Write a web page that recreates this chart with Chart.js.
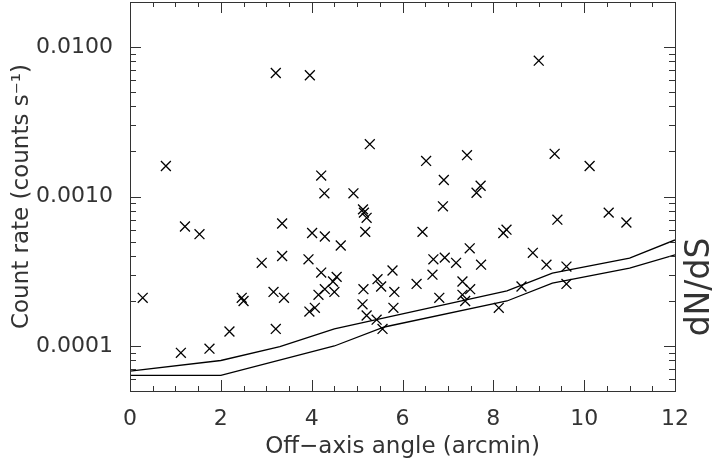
<!DOCTYPE html>
<html>
<head>
<meta charset="utf-8">
<script src="https://cdn.jsdelivr.net/npm/chart.js@4"></script>
<style>
  html, body { margin: 0; padding: 0; background: #fff; }
  #wrap { width: 718px; height: 463px; }
</style>
</head>
<body>
<div id="wrap"><canvas id="chart" width="718" height="463"></canvas></div>
<script>
// Sources: off-axis angle (arcmin) and count rate (counts/s)
const offAxis = [3.21, 3.96, 9.00, 0.79, 4.21, 4.28, 4.92, 1.21, 1.53, 3.35,
    4.01, 4.29, 5.28, 6.52, 7.42, 9.35, 10.12, 6.91, 7.72, 7.63,
    6.89, 5.13, 5.15, 5.21, 5.18, 6.44, 8.22, 8.29, 9.41, 10.54,
    10.93, 8.87, 9.17, 9.61, 9.61, 8.62, 8.12, 7.73, 7.48, 4.64,
    3.93, 4.21, 4.55, 4.47, 4.29, 4.50, 4.15, 4.07, 3.95, 5.14,
    5.45, 5.53, 5.78, 5.82, 5.12, 5.80, 5.21, 5.43, 5.56, 6.31,
    6.68, 6.93, 7.18, 6.66, 6.81, 7.32, 7.49, 7.32, 7.38, 3.35,
    2.90, 0.28, 2.46, 2.50, 3.16, 3.39, 2.19, 3.21, 1.12, 1.75];
const countRate = [0.0067, 0.00647, 0.0081, 0.0016, 0.00138, 0.00105, 0.00105, 0.00063, 0.00056, 0.00066,
    0.00057, 0.00054, 0.00224, 0.00173, 0.00189, 0.00193, 0.0016, 0.00129, 0.00118, 0.00106,
    0.00086, 0.00082, 0.00078, 0.00072, 0.00058, 0.00058, 0.00057, 0.0006, 0.0007, 0.00078,
    0.00067, 0.00042, 0.00035, 0.00034, 0.00026, 0.00025, 0.00018, 0.00035, 0.00045, 0.00047,
    0.00038, 0.00031, 0.00029, 0.00027, 0.00024, 0.00023, 0.00022, 0.00018, 0.00017, 0.00024,
    0.00028, 0.00025, 0.00032, 0.00023, 0.00019, 0.00018, 0.00016, 0.00015, 0.00013, 0.00026,
    0.00038, 0.00039, 0.00036, 0.0003, 0.00021, 0.00027, 0.00024, 0.00022, 0.0002, 0.0004,
    0.00036, 0.00021, 0.00021, 0.0002, 0.00023, 0.00021, 0.000125, 0.00013, 0.00009, 0.000096];

// dN/dS limit curves
const upperX = [0, 2, 3.3, 4.5, 8.3, 9.3, 11, 12];
const upperY = [0.000068, 0.00008, 0.000099, 0.00013, 0.000234, 0.000307, 0.000387, 0.000512];
const lowerX = [0, 2, 4.5, 5.6, 8.3, 9.3, 11, 12];
const lowerY = [0.0000637, 0.0000637, 0.0001, 0.000134, 0.0002, 0.000263, 0.000332, 0.000407];

// axis ticks
const xTicks = [0, 2, 4, 6, 8, 10, 12];
const yTicks = [0.0001, 0.001, 0.01];

const FONT = "'DejaVu Sans', sans-serif";
const INK = '#333';

function toPoints(xs, ys) {
    return xs.map((x, i) => ({ x: x, y: ys[i] }));
}

// inward ticks on all four sides + frame + dN/dS label
const framePlugin = {
    id: 'frame',
    afterDraw(chart) {
        const ctx = chart.ctx;
        const { left, right, top, bottom } = chart.chartArea;
        const xs = chart.scales.x, ys = chart.scales.y;
        ctx.save();
        ctx.strokeStyle = INK;
        ctx.lineWidth = 1;
        ctx.strokeRect(left + 0.5, top + 0.5, right - left, bottom - top);

        ctx.beginPath();
        for (let v = 0; v <= 12.001; v += 0.5) {
            const px = Math.round(xs.getPixelForValue(v)) + 0.5;
            const len = (v % 2 === 0) ? 11 : 5;
            ctx.moveTo(px, bottom); ctx.lineTo(px, bottom - len);
            ctx.moveTo(px, top); ctx.lineTo(px, top + len);
        }
        for (let e = -5; e <= -2; e++) {
            for (let m = 1; m <= 9; m++) {
                const v = m * Math.pow(10, e);
                if (v < ys.min || v > ys.max) continue;
                const py = Math.round(ys.getPixelForValue(v)) + 0.5;
                const len = (m === 1) ? 11 : 6;
                ctx.moveTo(left, py); ctx.lineTo(left + len, py);
                ctx.moveTo(right, py); ctx.lineTo(right - len, py);
            }
        }
        ctx.stroke();

        ctx.fillStyle = INK;
        ctx.font = '33px ' + FONT;
        ctx.translate(right + 25, 287);
        ctx.rotate(-Math.PI / 2);
        ctx.textAlign = 'center';
        ctx.textBaseline = 'middle';
        ctx.fillText('dN/dS', 0, 0);
        ctx.restore();
    }
};

const ctx = document.getElementById('chart').getContext('2d');
new Chart(ctx, {
    type: 'scatter',
    data: {
        datasets: [
            {
                label: 'sources',
                data: toPoints(offAxis, countRate),
                pointStyle: 'crossRot',
                pointRadius: 7,
                pointBorderWidth: 1.3,
                borderColor: '#000',
                backgroundColor: '#000'
            },
            {
                label: 'upper',
                data: toPoints(upperX, upperY),
                showLine: true,
                pointRadius: 0,
                borderWidth: 1.3,
                borderColor: '#000'
            },
            {
                label: 'lower',
                data: toPoints(lowerX, lowerY),
                showLine: true,
                pointRadius: 0,
                borderWidth: 1.3,
                borderColor: '#000'
            }
        ]
    },
    options: {
        responsive: false,
        animation: false,
        layout: { autoPadding: false, padding: { top: 2, right: 43, left: 0, bottom: 0 } },
        plugins: {
            legend: { display: false },
            tooltip: { enabled: false }
        },
        scales: {
            x: {
                type: 'linear',
                min: 0,
                max: 12,
                grid: { display: false },
                border: { display: false },
                afterBuildTicks: s => { s.ticks = xTicks.map(v => ({ value: v })); },
                afterFit: s => { s.height = 72; s.paddingLeft = 0; s.paddingRight = 0; },
                ticks: {
                    padding: 7,
                    color: INK,
                    font: { family: FONT, size: 22 },
                    maxRotation: 0,
                    callback: v => String(v)
                },
                title: {
                    display: true,
                    text: 'Off\u2212axis angle (arcmin)',
                    color: INK,
                    font: { family: FONT, size: 23 },
                    padding: { top: 0, bottom: 2 }
                }
            },
            y: {
                type: 'logarithmic',
                min: 0.00005,
                max: 0.02,
                grid: { display: false },
                border: { display: false },
                afterBuildTicks: s => { s.ticks = yTicks.map(v => ({ value: v })); },
                afterFit: s => { s.width = 130; s.paddingTop = 0; s.paddingBottom = 0; },
                ticks: {
                    padding: 9,
                    autoSkip: false,
                    color: INK,
                    font: { family: FONT, size: 22 },
                    callback: v => Number(v).toFixed(4)
                },
                title: {
                    display: true,
                    text: 'Count rate (counts s\u207B\u00B9)',
                    color: INK,
                    font: { family: FONT, size: 23 },
                    padding: { top: 8, bottom: 0 }
                }
            }
        }
    },
    plugins: [framePlugin]
});
</script>
</body>
</html>
